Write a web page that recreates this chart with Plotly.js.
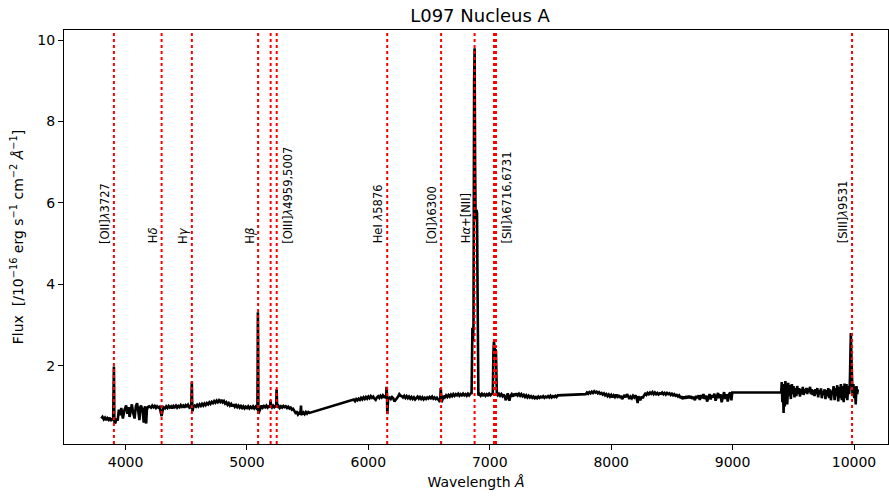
<!DOCTYPE html>
<html>
<head>
<meta charset="utf-8">
<script src="https://cdn.plot.ly/plotly-3.0.1.min.js"></script>
<style>html,body{margin:0;padding:0;background:#fff;}#chart{width:889px;height:499px;}</style>
</head>
<body>
<div id="chart"></div>
<script>
// Spectrum (observed wavelength in Å, flux in 1e-16 erg/s/cm2/Å)
const wavelength = [
3800,3810,3820,3830,3840,3850,3860,3870,3880,3890,3898,3902,3904,3906,3908,3915,3925,3935,
3945,3955,3965,3978,3990,4005,4015,4025,4033,4042,4052,4062,4074,4085,4095,4105,4114,4122,4128,4140,4150,4156,4161,4166,4170,4175,4183,4195,
4210,4220,4230,4240,4250,4260,4270,4280,4290,4297,4304,4312,4325,4335,4345,4355,4365,4375,4385,4395,4405,4415,4425,4435,4445,4455,4465,4475,4485,4495,4505,4515,4525,4535,4541,4544,4546,4548,4551,4558,
4570,4580,4590,4600,4610,4620,4630,4640,4650,4660,4670,4680,4690,4700,4710,4720,4730,4740,4750,4760,4770,4780,4790,4800,4810,4820,4830,4840,4850,4860,4870,4880,4890,4900,4910,4920,4930,4940,4950,4960,4970,4980,4990,5000,5010,5020,5030,5040,5050,5060,5070,5080,5086,5088,5090,5092,5094,5100,
5110,5120,5130,5140,5150,5160,5170,5180,5190,5194,5197,5205,5215,5225,5235,5241,5244,5246,5249,5260,5270,5280,5290,5300,5310,5320,5330,5340,5350,5360,5370,5380,5390,5400,5410,5420,5430,5440,5445,5448,5455,5465,5475,5485,5495,5505,5515,
5870,5880,5890,5900,5910,5920,5930,5940,5950,5960,5970,5980,5990,6000,6010,6020,6030,6040,6050,6060,6070,6080,6090,6100,6110,6120,6130,6140,6146,6150,6153,6156,6159,6163,
6175,6185,6195,6205,6215,6225,6235,6245,6255,6265,6275,6285,6295,6305,6315,6325,6335,6345,6355,6365,6375,6385,6395,6405,6415,6425,6435,6445,6455,6465,6475,6485,6495,6505,6515,6525,6535,6545,6555,6565,6575,6585,6592,6596,6599,6603,6610,6620,6630,6640,6650,6660,6670,6680,6690,6700,6710,6720,6730,6740,6750,6760,6770,6780,6790,6800,6810,6820,6830,6840,6846,
6850,6853,6857,6861,6866,6871,6875,6879,6883,6887,6891,6895,6899,6902,6906,
6915,6925,6935,6945,6955,6965,6975,6985,6995,7005,7015,7025,7030,7034,7038,7042,7047,7051,7055,7058,
7065,7075,7085,7095,7105,7115,7125,7132,7140,7148,7155,7162,7170,7180,7190,7200,7210,7220,7230,7240,7250,7260,7270,7280,7290,7300,7310,7320,7330,7340,7350,7360,7370,7380,7390,7400,7410,7420,7430,7440,7450,7460,7470,7480,7490,7500,7510,7520,7530,7540,7550,7560,
7790,7800,7810,7820,7830,7840,7850,7860,7870,7880,7890,7900,7910,7920,7930,7940,7950,7960,7970,7980,7990,8000,8010,8020,8030,8040,8050,8060,8070,8080,8090,8100,8110,8120,8130,8140,8150,8160,8170,8180,8190,8200,8210,8218,8224,8232,8240,8250,8260,8270,8280,8290,8300,8310,8320,8330,8340,8350,8360,8370,8380,8390,8400,8410,8420,8430,8440,8450,8460,8470,8480,8490,8500,8510,8520,8530,8540,8550,8560,8570,8580,8590,8600,8610,8620,8630,8640,8650,8660,8670,8680,8690,8700,8710,8720,8730,8740,8750,8760,8770,8780,8790,8800,8810,8820,8830,8840,8850,8860,8870,8880,8890,8900,8910,8920,8930,8940,8950,8960,8970,8980,8990,8997,
9400,9405,9410,9415,9420,9425,9430,9435,9440,9445,9450,9458,9465,9472,9480,9488,9495,9502,9510,9518,9525,9532,9540,9548,9555,9562,9570,9578,9585,9592,9600,9608,9615,9622,9630,9638,9645,9652,9660,9668,9675,9682,9690,9698,9705,9712,9720,9728,9735,9742,9750,9758,9765,9772,9780,9788,9795,9802,9810,9818,9825,9832,9840,9848,9855,9862,9870,9878,9885,9892,9900,9908,9915,9922,9930,9938,9945,9952,9960,9966,9970,9974,9978,9982,9988,9995,10002,10008,10014,10020,10026,10032
];
const flux = [
0.70,0.74,0.68,0.72,0.66,0.71,0.67,0.72,0.64,0.70,0.66,1.25,1.98,1.40,0.62,0.58,0.70,0.65,
0.92,0.78,0.96,0.70,0.90,1.02,0.82,0.98,0.74,0.95,1.05,0.85,0.70,1.00,1.08,0.88,0.66,0.98,1.02,0.90,0.60,0.95,1.00,0.62,0.58,0.90,0.98,1.00,
0.97,1.02,0.98,1.01,0.96,1.00,0.97,0.99,0.85,0.76,0.88,0.98,0.95,1.00,0.96,1.01,0.97,1.00,0.95,1.01,0.98,1.02,0.97,1.01,0.98,1.03,0.99,1.02,0.97,1.03,1.00,1.04,0.98,1.02,0.95,1.30,1.61,1.20,0.88,0.98,
1.02,0.99,1.04,1.00,1.05,1.01,1.06,1.02,1.07,1.03,1.08,1.05,1.10,1.06,1.11,1.08,1.13,1.09,1.14,1.10,1.15,1.11,1.16,1.10,1.13,1.07,1.10,1.04,1.08,1.02,1.06,1.00,1.05,0.99,1.03,0.98,1.02,0.97,1.01,0.96,1.00,0.95,0.99,0.96,1.00,0.95,0.99,0.96,1.00,0.95,0.99,0.94,0.92,1.80,3.31,2.50,0.82,0.88,
0.98,1.02,0.97,1.01,0.98,1.02,0.97,1.00,0.98,1.15,1.00,0.97,1.02,0.98,1.01,0.98,1.42,1.30,0.97,1.01,0.96,1.00,0.97,1.01,0.98,1.00,0.96,0.99,0.95,0.97,0.92,0.94,0.88,0.84,0.86,0.80,0.84,0.82,1.02,0.84,0.80,0.85,0.81,0.86,0.82,0.86,0.84,
1.15,1.17,1.13,1.18,1.15,1.19,1.16,1.21,1.17,1.22,1.18,1.23,1.19,1.24,1.20,1.25,1.21,1.24,1.19,1.16,1.22,1.25,1.21,1.26,1.22,1.27,1.23,1.25,1.20,1.48,1.30,0.81,0.90,1.20,
1.22,1.18,1.23,1.20,1.12,1.15,1.20,1.24,1.30,1.26,1.25,1.22,1.26,1.21,1.25,1.20,1.24,1.19,1.23,1.18,1.22,1.17,1.20,1.24,1.19,1.23,1.18,1.22,1.17,1.21,1.18,1.22,1.19,1.23,1.20,1.24,1.19,1.22,1.18,1.21,1.17,1.13,1.15,1.45,1.30,1.10,1.20,1.26,1.22,1.27,1.23,1.28,1.24,1.29,1.25,1.30,1.26,1.30,1.27,1.31,1.26,1.30,1.27,1.31,1.27,1.30,1.26,1.31,1.27,1.30,1.33,
1.30,2.20,2.93,2.60,3.00,9.00,9.80,7.00,5.60,5.70,5.83,5.75,4.00,1.50,1.27,
1.30,1.26,1.31,1.27,1.30,1.26,1.30,1.27,1.31,1.27,1.30,1.33,2.30,2.59,2.50,2.40,2.39,2.35,1.80,1.30,
1.27,1.31,1.26,1.30,1.25,1.29,1.22,1.15,1.25,1.32,1.20,1.14,1.26,1.30,1.24,1.31,1.26,1.32,1.27,1.31,1.26,1.30,1.25,1.28,1.23,1.27,1.22,1.26,1.22,1.25,1.21,1.24,1.20,1.23,1.20,1.24,1.21,1.24,1.22,1.25,1.21,1.24,1.22,1.25,1.22,1.26,1.22,1.25,1.23,1.26,1.23,1.27,
1.30,1.34,1.31,1.35,1.32,1.36,1.33,1.37,1.34,1.36,1.32,1.35,1.31,1.33,1.29,1.32,1.27,1.30,1.25,1.29,1.24,1.28,1.22,1.27,1.23,1.29,1.24,1.28,1.21,1.26,1.18,1.24,1.28,1.22,1.30,1.25,1.18,1.24,1.20,1.26,1.22,1.27,1.20,1.08,1.25,1.20,1.15,1.24,1.20,1.27,1.31,1.28,1.33,1.30,1.34,1.31,1.35,1.30,1.34,1.30,1.33,1.29,1.32,1.31,1.34,1.30,1.33,1.29,1.33,1.30,1.32,1.28,1.31,1.27,1.30,1.26,1.28,1.24,1.27,1.22,1.23,1.18,1.24,1.19,1.25,1.20,1.26,1.20,1.25,1.18,1.24,1.15,1.26,1.20,1.27,1.16,1.28,1.20,1.30,1.18,1.27,1.12,1.25,1.30,1.17,1.28,1.22,1.31,1.14,1.27,1.33,1.20,1.30,1.10,1.28,1.35,1.18,1.30,1.12,1.29,1.34,1.15,1.34,
1.34,1.60,1.10,1.45,0.84,1.55,1.00,1.62,1.20,1.50,1.05,1.58,1.25,1.52,1.18,1.55,1.30,1.50,1.22,1.45,1.25,1.50,1.30,1.45,1.24,1.42,1.30,1.48,1.28,1.42,1.33,1.45,1.30,1.44,1.35,1.48,1.30,1.42,1.28,1.40,1.25,1.42,1.30,1.45,1.22,1.40,1.30,1.44,1.20,1.38,1.28,1.42,1.18,1.40,1.25,1.45,1.20,1.42,1.15,1.38,1.30,1.50,1.15,1.45,1.25,1.52,1.12,1.48,1.20,1.55,1.15,1.50,1.10,1.56,1.20,1.55,1.15,1.50,1.30,1.60,2.20,2.80,2.30,1.50,1.25,1.55,1.20,1.48,1.05,1.50,1.30,1.42
];

// Emission-line markers (observed wavelength, Å)
const lineWaves = [3904, 4297, 4546, 5092, 5195, 5245, 6155, 6599, 6875, 7035, 7051, 9984];

// Line labels and the wavelength each label is attached to
const labelTexts = ['[OII]<i>λ</i>3727', 'H<i>δ</i>', 'H<i>γ</i>', 'H<i>β</i>', '[OIII]<i>λ</i>4959,5007',
  'HeI <i>λ</i>5876', '[OI]<i>λ</i>6300', 'H<i>α</i>+[NII]', '[SII]<i>λ</i>6716,6731', '[SIII]<i>λ</i>9531'];
const labelWaves = [3904, 4297, 4546, 5092, 5245, 6155, 6599, 6875, 7051, 9984];
const labelFlux = [5, 5, 5, 5, 5, 5, 5, 5, 5, 5];
// which side of its marker each label sits on (layout only)
const labelSide = ['l', 'l', 'l', 'l', 'r', 'l', 'l', 'l', 'r', 'l'];

// Axis ticks
const xTickVals = [4000, 5000, 6000, 7000, 8000, 9000, 10000];
const xTickText = ['4000', '5000', '6000', '7000', '8000', '9000', '10000'];
const yTickVals = [2, 4, 6, 8, 10];
const yTickText = ['2', '4', '6', '8', '10'];

const FONT = 'DejaVu Sans, sans-serif';

const shapes = lineWaves.map(w => ({
  type: 'line', xref: 'x', yref: 'paper', x0: w, x1: w, y0: 0, y1: 1,
  line: {color: '#ff0000', width: 2, dash: 'dot'}, layer: 'above'
}));

const annotations = labelTexts.map((t, i) => ({
  x: labelWaves[i], y: labelFlux[i], xref: 'x', yref: 'y', text: t, showarrow: false,
  textangle: -90, xanchor: labelSide[i] === 'l' ? 'right' : 'left', yanchor: 'bottom',
  xshift: labelSide[i] === 'l' ? 0 : 2, yshift: -2,
  font: {family: FONT, size: 11.5, color: '#000'}
}));

const trace = {
  x: wavelength, y: flux, type: 'scatter', mode: 'lines',
  line: {color: '#000000', width: 2.6}, hoverinfo: 'skip'
};

const layout = {
  width: 889, height: 499,
  margin: {l: 64, r: 1, t: 30, b: 55},
  paper_bgcolor: '#ffffff', plot_bgcolor: '#ffffff',
  showlegend: false,
  font: {family: FONT, size: 14, color: '#000'},
  title: {text: 'L097 Nucleus A', font: {family: FONT, size: 18, color: '#000'},
    x: 0.54, xanchor: 'center', y: 1 - 16/499, yanchor: 'middle', yref: 'container'},
  xaxis: {
    range: [3493, 10280], tickvals: xTickVals, ticktext: xTickText,
    ticks: 'outside', ticklen: 5, tickwidth: 1, tickcolor: '#000',
    showline: true, linecolor: '#000', linewidth: 1, mirror: true,
    showgrid: false, zeroline: false,
    tickfont: {family: FONT, size: 14, color: '#000'},
    title: {text: 'Wavelength <i>Å</i>', font: {family: FONT, size: 14, color: '#000'}, standoff: 8}
  },
  yaxis: {
    range: [0.075, 10.25], tickvals: yTickVals, ticktext: yTickText,
    ticks: 'outside', ticklen: 5, tickwidth: 1, tickcolor: '#000',
    showline: true, linecolor: '#000', linewidth: 1, mirror: true,
    showgrid: false, zeroline: false,
    tickfont: {family: FONT, size: 14, color: '#000'},
    title: {text: 'Flux  [/10<sup>−16</sup> erg s<sup>−1</sup> cm<sup>−2</sup> <i>Å</i><sup>−1</sup>]',
      font: {family: FONT, size: 14, color: '#000'}, standoff: 10}
  },
  shapes: shapes,
  annotations: annotations
};

Plotly.newPlot('chart', [trace], layout, {displayModeBar: false, staticPlot: true});
</script>
</body>
</html>
